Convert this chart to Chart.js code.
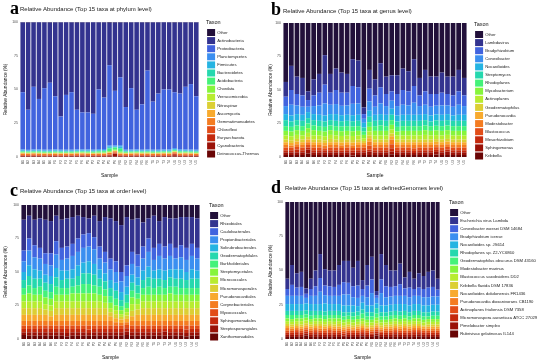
<!DOCTYPE html>
<html>
<head>
<meta charset="utf-8">
<script src="https://cdn.jsdelivr.net/npm/chart.js@4.4.1/dist/chart.umd.min.js"></script>
<style>
  html, body { margin: 0; padding: 0; background: #fff; }
  #wrap { position: relative; width: 550px; height: 364px; overflow: hidden; background: #fff; }
  .panel { position: absolute; }
  .tag { position: absolute; font-family: "Liberation Serif", "Times New Roman", serif; font-weight: bold; font-size: 18px; line-height: 18px; color: #000; }
  .ttl { position: absolute; font-family: "Liberation Sans", Arial, sans-serif; font-size: 6px; line-height: 6px; color: #1a1a1a; white-space: nowrap; }
</style>
</head>
<body>
<div id="wrap">
  <div class="panel" style="left:0;top:0;width:275px;height:182px"><canvas id="chartA"></canvas></div>
  <div class="panel" style="left:265px;top:0;width:285px;height:182px"><canvas id="chartB"></canvas></div>
  <div class="panel" style="left:0;top:182px;width:275px;height:182px"><canvas id="chartC"></canvas></div>
  <div class="panel" style="left:265px;top:182px;width:285px;height:182px"><canvas id="chartD"></canvas></div>

  <div class="tag" style="left:10px;top:-1px">a</div>
  <div class="ttl" style="left:20px;top:6px">Relative Abundance (Top 15 taxa at phylum level)</div>
  <div class="tag" style="left:271px;top:0px">b</div>
  <div class="ttl" style="left:283px;top:8px">Relative Abundance (Top 15 taxa at genus level)</div>
  <div class="tag" style="left:10px;top:181px">c</div>
  <div class="ttl" style="left:20px;top:188px">Relative Abundance (Top 15 taxa at order level)</div>
  <div class="tag" style="left:271px;top:178px">d</div>
  <div class="ttl" style="left:285px;top:185px">Relative Abundance (Top 15 taxa at definedGenomes level)</div>
</div>

<script>
// sample names on the x axis
const samples = ["B1","B2","B3","B4","B5","B6","F1","F2","F3","F4","F5","F6",
  "P1","P2","P3","P4","P5","P6","R1","R2","R3","R4","R5","R6",
  "T1","T2","T3","T4","U1","U2","U3","U4","U5"];

// colours, legend order (top of stack first)
const palette = ["#22103a","#33338f","#4163de","#3b8ff0","#25b4e2","#25d8ae","#44f27a","#86f53c",
  "#b8ec30","#dccf34","#f8aa2e","#f47c21","#e24d18","#c4290d","#9a1107","#690505"];

// ---- a: phylum ----
const phylumTaxa = ["Other","Actinobacteria","Proteobacteria","Planctomycetes","Firmicutes","Bacteroidetes",
  "Acidobacteria","Chordata","Verrucomicrobia","Nitrospirae","Ascomycota","Gemmatimonadetes",
  "Chloroflexi","Euryarchaeota","Cyanobacteria","Deinococcus-Thermus"];
const aOther = [0.3,0.4,0.3,0.2,0.3,0.4,0.3,0.3,0.2,0.3,0.4, 0.3,0.3,0.2,0.3,0.3,0.5,0.4,0.4,0.3,0.3,0.2, 0.3,0.4,0.3,0.3,0.2,0.3,0.4,0.3,0.3,0.3,0.3];
const aActino = [51.7,64.6,47.7,56.8,48.7,44.6,54.7,69.7,53.8,51.7,64.6, 66.7,66.7,67.8,49.7,55.7,31.5,50.6,40.6,62.7,48.7,64.8, 60.7,35.6,58.7,52.7,49.8,49.7,51.6,52.7,47.7,45.7,54.7];
const aProteo = [42.4,29.7,46.4,37.4,45.6,49.6,39.4,24.6,40.6,42.6,29.4, 27.4,27.4,26.6,44.2,38.1,59.3,40.5,50.2,31.6,45.5,29.4, 33.6,58.4,35.6,41.6,44.4,44.4,41.4,41.3,46.4,48.5,39.6];
const aPlancto = [0.7,0.6,0.7,0.7,0.7,0.7,0.7,0.7,0.7,0.7,0.7, 0.7,0.8,0.7,0.7,0.7,1.0,0.7,1.1,0.7,0.7,0.7, 0.6,0.7,0.7,0.7,0.7,0.7,0.7,0.7,0.7,0.7,0.7];
const aFirmic = [0.5,0.5,0.5,0.5,0.5,0.5,0.6,0.5,0.5,0.5,0.5, 0.5,0.5,0.5,0.5,0.5,0.9,0.5,1.0,0.5,0.5,0.5, 0.5,0.5,0.5,0.5,0.5,0.6,0.5,0.5,0.5,0.5,0.5];
const aBactero = [0.4,0.3,0.4,0.4,0.4,0.4,0.4,0.4,0.4,0.4,0.4, 0.4,0.4,0.4,0.4,0.4,0.6,0.4,0.6,0.4,0.4,0.4, 0.4,0.4,0.4,0.4,0.4,0.4,0.4,0.4,0.4,0.4,0.4];
const aAcido = [0.6,0.6,0.6,0.7,0.6,0.6,0.6,0.6,0.6,0.6,0.6, 0.6,0.6,0.6,0.9,1.0,1.8,1.5,2.2,0.6,0.6,0.6, 0.6,0.6,0.6,0.5,0.6,0.6,0.6,0.8,0.6,0.6,0.6];
const aChordata = [0.2,0.2,0.2,0.2,0.2,0.2,0.2,0.2,0.2,0.2,0.2, 0.2,0.2,0.2,0.2,0.2,0.6,0.5,0.7,0.2,0.2,0.2, 0.2,0.2,0.2,0.2,0.2,0.2,0.2,0.2,0.2,0.2,0.2];
const aVerruco = [0.3,0.3,0.3,0.3,0.3,0.3,0.3,0.3,0.2,0.3,0.3, 0.3,0.3,0.3,0.3,0.3,0.3,0.3,0.3,0.3,0.3,0.3, 0.3,0.4,0.3,0.3,0.3,0.3,0.3,0.3,0.3,0.3,0.3];
const aNitro = [0.2,0.2,0.2,0.2,0.2,0.2,0.2,0.2,0.2,0.2,0.2, 0.2,0.2,0.2,0.2,0.2,0.3,0.2,0.2,0.2,0.2,0.2, 0.2,0.2,0.2,0.2,0.2,0.2,0.2,0.2,0.2,0.2,0.2];
const aAscomy = [0.2,0.2,0.2,0.2,0.2,0.2,0.2,0.2,0.2,0.2,0.2, 0.2,0.2,0.2,0.2,0.2,0.2,0.2,0.3,0.2,0.2,0.2, 0.2,0.2,0.2,0.2,0.2,0.2,0.2,0.2,0.2,0.2,0.2];
const aGemmat = [1.0,0.9,0.9,0.9,0.9,0.8,0.9,0.9,0.9,0.9,1.0, 0.9,0.9,0.9,0.9,0.9,1.1,0.9,0.9,0.8,0.9,0.9, 0.9,0.9,0.9,0.9,1.0,0.9,0.9,0.9,0.9,0.9,0.8];
const aChloro = [0.5,0.5,0.6,0.5,0.5,0.5,0.5,0.5,0.5,0.5,0.5, 0.5,0.5,0.4,0.5,0.5,0.5,0.7,0.5,0.5,0.5,0.5, 0.5,0.5,0.5,0.5,0.5,0.5,0.5,0.5,0.6,0.5,0.5];
const aEury = [0.3,0.3,0.3,0.3,0.3,0.3,0.3,0.3,0.3,0.2,0.3, 0.3,0.3,0.3,0.3,0.3,0.3,0.3,0.3,0.3,0.3,0.4, 0.3,0.3,0.3,0.3,0.3,0.3,0.8,0.3,0.3,0.3,0.3];
const aCyano = [0.4,0.4,0.4,0.4,0.3,0.4,0.4,0.4,0.4,0.4,0.4, 0.5,0.4,0.4,0.4,0.4,0.8,1.8,0.4,0.4,0.4,0.4, 0.4,0.4,0.4,0.4,0.4,0.4,0.9,0.4,0.4,0.4,0.4];
const aDeino = [0.3,0.3,0.3,0.3,0.3,0.3,0.3,0.2,0.3,0.3,0.3, 0.3,0.3,0.3,0.3,0.3,0.3,0.5,0.3,0.3,0.3,0.3, 0.3,0.3,0.2,0.3,0.3,0.3,0.4,0.3,0.3,0.3,0.3];

// ---- b: genus ----
const genusTaxa = ["Other","Lambdavirus","Bradyrhizobium","Conexibacter","Nocardioides","Streptomyces",
  "Rhodoplanes","Mycobacterium","Actinoplanes","Geodermatophilus","Pseudonocardia","Modestobacter",
  "Blastococcus","Mesorhizobium","Sphingomonas","Kribbella"];
const bOther = [44,32,40,41,51,42,38,24,38,34,37, 38,27,28,63,35,42,30,40,39,39,34, 36,27,41,35,40,40,37,40,40,35,41];
const bLambda = [11,18,13,13,6.5,12,14,22,14,16,15, 14,20,20,5,14,12,18,13,12,14,16, 15,20,13,16,13,13,15,13,14,16,13];
const bBrady = [7,11,8.5,8.5,5,8,9.5,14,9,10.5,9.8, 9.5,13.3,12,3.5,9.5,8.5,12,9,7,9,11, 10.5,12.5,8,10,9.5,8.7,9.5,8.5,8.5,10,8];
const bConex = [6,8,6.5,6,4,6,7,9,7,7.5,7, 7,8.5,8.5,3,7,6,8,6.5,6,7,7.5, 7,9,6.5,7,6.5,6.5,7,6.5,6.5,7.5,6.5];
const bNocard = [4.5,4.5,4.5,4.5,4.5,4.5,4.5,4.5,4.5,5,4.5, 4.5,4.5,4.5,3.5,4.5,4.5,4.5,4.5,4.5,4.5,4.5, 4.5,4.5,4.5,4.5,4.5,4.5,4.5,4.5,4,4.5,4.5];
const bStrepto = [4.5,4,4,4,4,4,4,4,4,4,4, 4,4,4,3,4,4,4,4,4,4,4, 4,4,4,4,3.5,4,4,4,4,4,4];
const bRhodo = [3.5,3.5,3.5,3.5,3.5,3.5,3.5,3.5,3.5,3.5,3.5, 3.5,3.5,3.5,2.5,3.5,3.5,4,3.5,3.5,3.5,3.5, 3.5,3.5,3.5,3.5,3.5,3.5,3.5,3.5,3.5,3.5,3.5];
const bMyco = [3.5,3.5,3.5,3.5,3.5,4,3.5,3.5,3.5,3.5,3.5, 3.5,3.5,3.5,2.5,3.5,3.5,3.5,3.5,3.5,3,3.5, 3.5,3.5,3.5,3.5,3.5,3.5,3.5,3.5,3.5,3.5,3.5];
const bActino = [3,3,3,3,3,3,3,3,3,3,3, 3,3,3,2,3,3,3,3,3,3,3, 3,3,3,3.5,3,3,3,3,3,3,3];
const bGeoderm = [2,2,2,2,2,2,2,2,2.5,2,2, 2,2,2,1.5,2,2,2,2,2,2,2, 2,2,2,2,2,2,2,2,2,2,2];
const bPseudo = [2,2,2,2,2,2,2,2,2,2,2, 2,2,2,1.5,2.5,2,2,2,2.5,2,2, 2,2,2,2,2,2,2,2,2,2,2];
const bModest = [2,1.5,2,2,2,2,2,2,2,2,2, 2,2,2,2,3,2,2,2,3.5,2,2, 2,2.5,2,2,2,2,2,2,2,2,2];
const bBlasto = [2,2,2,2,2,2,2,1.5,2,2,2, 2,2,2,2,3,2,2,2,3,2,2, 2,2,2,2,2,2,2,2,2,2,2];
const bMeso = [1.5,1.5,2,1.5,1.5,1.5,1.5,1.5,1.5,1.5,1.2, 1.5,1.5,1.5,1.5,1.5,1.5,1.5,1.5,2.5,1.5,1.5, 1.5,1.5,1.5,1.5,1.5,1.5,1.5,1.5,1.5,1.5,1.5];
const bSphingo = [2,2,2,2,3,2,2,2,2,2,2, 2,2,2,2,2.5,2,2,2,2,2,2, 2,1.5,2,2,2,2,2,2.5,2,2,2];
const bKrib = [1.5,1.5,1.5,1.5,2.5,1.5,1.5,1.5,1.5,1.5,1.5, 1.5,1.2,1.5,1.5,1.5,1.5,1.5,1.5,2,1.5,1.5, 1.5,1.5,1.5,1.5,1.5,1.8,1.5,1.5,1.5,1.5,1.5];

// ---- c: order ----
const orderTaxa = ["Other","Rhizobiales","Caulobacterales","Propionibacteriales","Solirubrobacterales",
  "Geodermatophilales","Burkholderiales","Streptomycetales","Micrococcales","Micromonosporales",
  "Pseudonocardiales","Corynebacteriales","Myxococcales","Sphingomonadales","Streptosporangiales","Xanthomonadales"];
const cOther = [11,8,11,10,11,12,8,11,10,9,8, 9,10,8,12,9,10,12,15,9,11,10, 13,10,8,12,9,10,10,9,9,9,10];
const cRhizo = [23,17,19,22,25,24,19,21,21,20,17, 13,11,16,19,26,30,30,35,36,24,27, 18,15,24,17,22,19,22,21,23,20,22];
const cCaulo = [8,9,9,8,8,9,10,9,9,9,10, 10,10,9,9,8,8,8,7,8,9,9, 9,10,9,9,9,9,8,9,9,9,8];
const cPropioni = [8,11,9,9,8,8,10,8,9,10,10, 11,11,11,8,8,8,8,8,8,8,8, 9,11,8,10,9,10,8,9,9,10,9];
const cSoliru = [6,8,7,6,6,6,7,7,6,7,8, 8,9,8,7,6,6,6,6,6,6,6, 7,8,6,7,7,6,7,7,6,7,6];
const cGeoderm = [6,7,7,6,6,6,7,6,7,6,7, 8,8,8,6,6,6,6,4.5,6,6,6, 6,7,7,6,6,7,6,7,6,7,7];
const cBurk = [5,6,5,6,5,5,6,5,5,5,6, 7,7,6,6,5,5,5,3,4,5,4, 5,6,5,6,5,5,6,5,5,5,5];
const cStrepto = [5,6,5,5,5,5,5,5,5,6,6, 6,6,6,5,5,4,3.5,3,3,5,4, 5,5,5,5,5,6,5,5,5,5,5];
const cMicroc = [5,5,5,5,4,4,5,5,5,5,5, 5,5,5,5,4,3,3,2,2.5,5,4, 5,5,5,5,5,5,5,5,5,5,5];
const cMicromo = [5,5,5,5,4,4,5,5,5,5,5, 5,5,5,5,5,3,3,2,2.5,4,4, 5,5,5,5,5,5,5,5,5,5,5];
const cPseudo = [4.5,4.5,4.5,4.5,4.5,3.5,4.5,4.5,4.5,4.5,4.5, 4.5,4.5,4.5,4.5,4.5,3.5,3,2.5,2.5,3.5,4.5, 4.5,4.5,4.5,4.5,4.5,4.5,4.5,4.5,4.5,4.5,4.5];
const cCoryne = [3.5,3.5,3.5,3.5,3.5,3.5,3.5,3.5,3.5,3.5,3.5, 3.5,3.5,3.5,3.5,3.5,3.5,2.5,2,2,3.5,3.5, 3.5,3.5,3.5,3.5,3.5,3.5,3.5,3.5,3.5,3.5,3.5];
const cMyxo = [2.5,2.5,2.5,2.5,2,2.5,2.5,2.5,2.5,2.5,2.5, 2.5,3,2.5,2.5,2.5,2.5,2.5,2.5,2.5,2.5,2.5, 2.5,2.5,2.5,2.5,2.5,2.5,2.5,2.5,3,2.5,2.5];
const cSphingo = [2.5,2.5,2.5,2.5,3,2.5,2.5,2.5,3,2.5,2.5, 2.5,2.5,2.5,2.5,2.5,2.5,2.5,2.5,2.5,2.5,2.5, 2.5,2.5,2.5,2.5,2,2.5,2.5,2.5,2.5,2.5,2.5];
const cStreptosp = [2,2.5,2.5,2.5,2.5,2.5,2.5,2.5,2.5,2.5,2.5, 2.5,2,2.5,2.5,2.5,2.5,2.5,2.5,2.5,2.5,2.5, 2.5,2.5,2.5,2.5,3,2.5,2.5,2.5,2.5,2.5,2.5];
const cXantho = [3,2.5,2.5,2.5,2.5,2.5,2.5,2.5,2,2.5,2.5, 2.5,2.5,2.5,2.5,2.5,2.5,2.5,2.5,3,2.5,2.5, 2.5,2.5,2.5,2.5,2.5,2.5,2.5,2.5,2,2.5,2.5];

// ---- d: defined genomes ----
const genomeTaxa = ["Other","Escherichia virus Lambda","Conexibacter woesei DSM 14684","Bradyrhizobium icense",
  "Nocardioides sp. JS614","Rhodoplanes sp. Z2-YC6860","Geodermatophilus obscurus DSM 43160","Modestobacter marinus",
  "Blastococcus saxobsidens DD2","Kribbella flavida DSM 17836","Nocardioides dokdonensis FR1436",
  "Pseudonocardia dioxanivorans CB1190","Actinoplanes friuliensis DSM 7358","Micromonospora aurantiaca ATCC 27029",
  "Pimelobacter simplex","Rubrivivax gelatinosus IL144"];
const dOther = [56,46,52,51,63,56,50,38,49,50,50, 46,43,43,48,43,57,46,40,65,38,46, 50,50,45,55,51,56,52,54,51,50,56];
const dLambda = [7.5,14.5,10.5,11,4,7.5,11.5,17.5,12,11.5,12, 14.5,15.5,16,13.5,18,6.5,15,16.5,3,18.5,15.5, 12,11.5,15,8,11.5,7.5,10.5,9.5,11.5,12,8];
const dConex = [5,8,6,6.5,3,5,7,10,7,7,6.5, 8,9,8.5,8,9,5,8.5,10,2,10,8, 7,7,8.5,5.5,7,5,6,6,7,7,5];
const dBrady = [6,6,6,6,4,6,6,9,6,6,6, 6,8,8,6,6,5,6,9,4,9,6, 6,6,6,6,6,6,6,6,6,6,6];
const dNocSp = [5,5,5,5,5,5,5,5,6,5,5, 5,5,5,5,4,5,5,5,3.5,5,5, 5,5,5.5,5,5,5,5,5,5,5,5];
const dRhodo = [3,3,3,3,3,3.5,3,3,3,3,3, 3,3,2.5,3,3,3,3,3,4,3,3, 3,3,3,3,3,3,3,3,3,3,3];
const dGeoderm = [2.5,3,2.5,2.5,2.5,2.5,2.5,2.5,2.5,2.5,2.5, 2.5,2.5,2.5,2.5,2.5,3.5,2.5,2.5,3,2.5,2.5, 2.5,2.5,2.5,2.5,2.5,2.5,2.5,2.5,2,2.5,2.5];
const dModest = [2,2,2,2,2,2,2,2,2,2,2.5, 2,2,2,2,2,2,2,2,2,2,2, 2,2,2,2,1.5,2,2,2,2,2,2];
const dBlasto = [2,2,2,2.5,2,2,2,2,2,2,2, 2,2,2,2,2,2,2,2,2,2,1.5, 2,2,2,2,2,2,2,2,2,2,2];
const dKrib = [1.5,1.5,1.5,1.5,1.5,1.5,1.5,1.5,1.5,1.5,1.5, 2,1.5,1.5,1.5,1.5,1.5,1.5,1.5,1.5,1.5,1.5, 1.5,1.5,1.5,1.5,1.5,1.5,1.5,1,1.5,1.5,1.5];
const dNocDok = [1.5,1.5,1.5,1.5,1.5,1.5,1.5,2,1.5,1.5,1.5, 1.5,1.5,1.5,1.5,1.5,1.5,1,1.5,1.5,1.5,1.5, 1.5,1.5,1.5,1.5,1.5,1.5,1.5,1.5,1.5,1.5,1.5];
const dPseudo = [2,1.5,1.5,1.5,1.5,1.5,1.5,1.5,1.5,1.5,1.5, 1.5,1.5,1.5,1,1.5,1.5,1.5,1.5,1.5,1.5,1.5, 1.5,1.5,1.5,2,1.5,1.5,1.5,1.5,1.5,1.5,1.5];
const dActino = [1.5,1.5,1.5,1.5,1.5,1.5,1.5,1.5,1.5,2,1.5, 1.5,1.5,1.5,1.5,1.5,1.5,1.5,1.5,1.5,1,1.5, 1.5,1.5,1.5,1.5,1.5,1.5,1.5,1.5,1.5,1.5,1.5];
const dMicromo = [1.5,1.5,2,1.5,1.5,1.5,1.5,1.5,1.5,1.5,1.5, 1.5,1.5,1.5,1.5,1.5,1.5,1.5,1,1.5,1.5,1.5, 1.5,1.5,1.5,1.5,1.5,2,1.5,1.5,1.5,1.5,1.5];
const dPimelo = [1.5,1.5,1.5,1.5,1.5,1.5,2,1.5,1.5,1.5,1.5, 1.5,1,1.5,1.5,1.5,1.5,1.5,1.5,1.5,1.5,1.5, 1.5,2,1.5,1.5,1.5,1.5,1.5,1.5,1.5,1.5,1.5];
const dRubri = [1.5,1.5,1.5,1.5,2.5,1.5,1.5,1.5,1.5,1.5,1.5, 1.5,1.5,1.5,1.5,1.5,2,1.5,1.5,2.5,1.5,1.5, 1.5,1.5,1.5,1.5,1.5,1.5,2,1.5,1.5,1.5,1.5];

Chart.defaults.font.family = '"Liberation Sans", Arial, sans-serif';

// puts the legend box where the panel needs it
const legendPlace = {
  id: "legendPlace",
  beforeUpdate(chart, args, opts) {
    const lg = chart.legend;
    if (lg && !lg.__fixed) {
      const fit = lg.fit.bind(lg);
      lg.fit = function () { fit(); this.width = opts.width; };
      lg.__fixed = true;
    }
  },
  afterLayout(chart, args, opts) {
    const lg = chart.legend;
    lg.left = opts.left;
    lg.top = opts.top;
    lg.right = lg.left + lg.width;
    lg.bottom = lg.top + lg.height;
  }
};

function makeChart(id, taxa, series, place) {
  // ggplot stacks the first legend entry on top, so push datasets bottom-first
  const datasets = [];
  for (let i = taxa.length - 1; i >= 0; i--) {
    datasets.push({
      label: taxa[i],
      data: series[i],
      backgroundColor: palette[i],
      borderWidth: 0,
      barPercentage: 0.84,
      categoryPercentage: 1
    });
  }
  return new Chart(document.getElementById(id), {
    type: "bar",
    data: { labels: samples, datasets },
    options: {
      responsive: true,
      maintainAspectRatio: false,
      animation: false,
      layout: { padding: { top: place.top, left: 0, right: 0, bottom: 0 } },
      plugins: {
        legend: {
          position: "right",
          align: "start",
          reverse: true,
          title: { display: true, text: "Taxon", color: "#111", font: { size: 5.5 }, padding: { top: 0, bottom: 1.3 }, position: "start" },
          labels: { boxWidth: 8, boxHeight: 7, padding: 1.1, color: "#222", font: { size: 4.2 } }
        },
        tooltip: { enabled: false },
        legendPlace: { left: place.legendLeft, top: place.legendTop, width: place.legendWidth }
      },
      scales: {
        x: {
          stacked: true,
          grid: { display: false, drawTicks: false },
          border: { display: false },
          ticks: { autoSkip: false, minRotation: 90, maxRotation: 90, padding: 3, color: "#4d4d4d", font: { size: 3.5 } },
          title: { display: true, text: "Sample", color: "#111", font: { size: 5 }, padding: { top: 0, bottom: 3 } },
          afterFit: (s) => { s.height = 25; }
        },
        y: {
          stacked: true,
          min: 0,
          max: 100,
          grid: { display: false, drawTicks: false },
          border: { display: false },
          ticks: { stepSize: 25, padding: 2, color: "#4d4d4d", font: { size: 3.5 } },
          title: { display: true, text: "Relative Abundance (%)", color: "#111", font: { size: 4.8 }, padding: { top: 3, bottom: 0 } },
          afterFit: (s) => { s.width = place.yWidth; }
        }
      }
    },
    plugins: [legendPlace]
  });
}

makeChart("chartA", phylumTaxa,
  [aOther, aActino, aProteo, aPlancto, aFirmic, aBactero, aAcido, aChordata, aVerruco, aNitro, aAscomy, aGemmat, aChloro, aEury, aCyano, aDeino],
  { top: 22, yWidth: 20, legendWidth: 76, legendLeft: 206, legendTop: 20 });

makeChart("chartB", genusTaxa,
  [bOther, bLambda, bBrady, bConex, bNocard, bStrepto, bRhodo, bMyco, bActino, bGeoderm, bPseudo, bModest, bBlasto, bMeso, bSphingo, bKrib],
  { top: 23, yWidth: 18, legendWidth: 83, legendLeft: 209, legendTop: 22 });

makeChart("chartC", orderTaxa,
  [cOther, cRhizo, cCaulo, cPropioni, cSoliru, cGeoderm, cBurk, cStrepto, cMicroc, cMicromo, cPseudo, cCoryne, cMyxo, cSphingo, cStreptosp, cXantho],
  { top: 23, yWidth: 21, legendWidth: 75, legendLeft: 209, legendTop: 21 });

makeChart("chartD", genomeTaxa,
  [dOther, dLambda, dConex, dBrady, dNocSp, dRhodo, dGeoderm, dModest, dBlasto, dKrib, dNocDok, dPseudo, dActino, dMicromo, dPimelo, dRubri],
  { top: 20, yWidth: 20, legendWidth: 110, legendLeft: 184, legendTop: 18 });
</script>
</body>
</html>
